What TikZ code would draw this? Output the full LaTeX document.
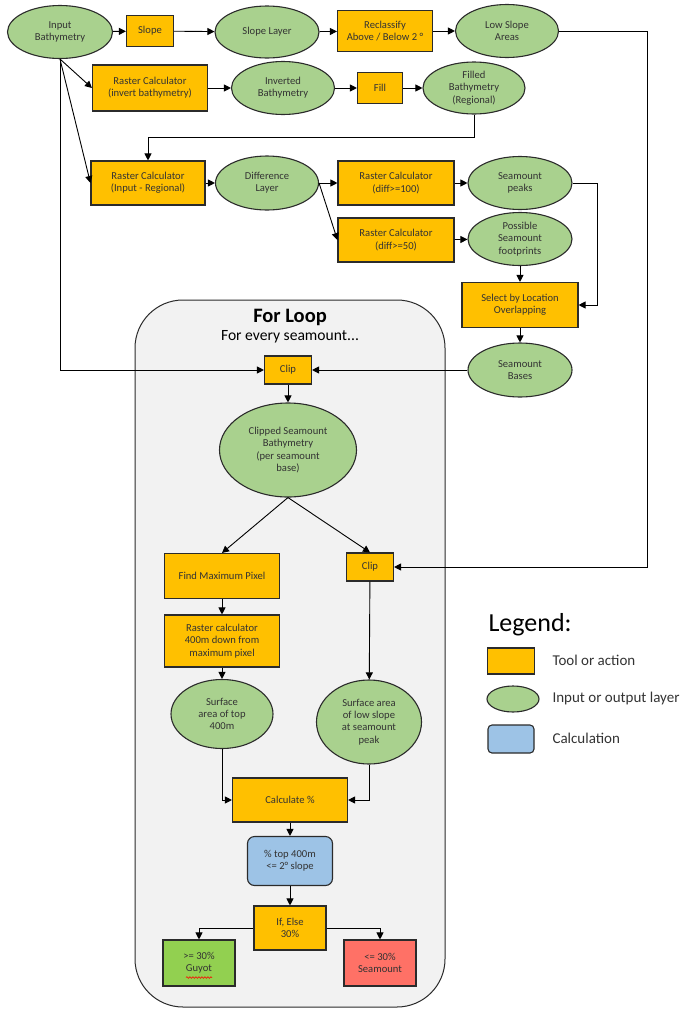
\documentclass[tikz,border=0pt]{standalone}
\usepackage{fontspec}
\setmainfont{Carlito}
\usetikzlibrary{arrows.meta,decorations.pathmorphing,shapes.geometric}
\definecolor{orng}{HTML}{FFC000}
\definecolor{grn}{HTML}{A9D18E}
\definecolor{blu}{HTML}{9DC3E6}
\definecolor{gbox}{HTML}{92D050}
\definecolor{rbox}{HTML}{FF7166}
\definecolor{loopbg}{HTML}{F2F2F2}
\definecolor{txt}{HTML}{333333}
\definecolor{edge}{HTML}{2B2B2B}
\tikzset{
  base/.style={draw=edge, line width=1.1pt, align=center, inner sep=0pt, text=txt,
    font=\fontsize{10.6}{12.3}\selectfont},
  tool/.style={base, rectangle, fill=orng},
  layer/.style={base, ellipse, fill=grn},
  calc/.style={base, rectangle, rounded corners=7pt, fill=blu},
  arr/.style={draw=black, line width=0.9pt, -{Triangle[length=7pt,width=7pt]}},
  ln/.style={draw=black, line width=0.9pt},
}
\begin{document}
\begin{tikzpicture}[x=1pt,y=-1pt]
\useasboundingbox (0,0) rectangle (682,1010);
% loop container
\draw[fill=loopbg, draw=edge, line width=1pt, rounded corners=48pt] (135,300) rectangle (445,1007);
\node[font=\fontsize{20.5}{23}\selectfont\bfseries, text=black] (ltitle) at (290,317) {For Loop};
\node[font=\fontsize{15.6}{18}\selectfont, text=black] (lsub) at (290,337) {For every seamount...};

% top rows
\node[layer, minimum width=105pt, minimum height=53pt] (inb) at (60,32) {Input\\Bathymetry};
\node[tool, minimum width=47pt, minimum height=31pt] (slope) at (150,31) {Slope};
\node[layer, minimum width=104pt, minimum height=52pt] (sl) at (267,32) {Slope Layer};
\node[tool, minimum width=95pt, minimum height=41pt] (recl) at (385,31) {Reclassify\\Above / Below 2 °};
\node[layer, minimum width=103pt, minimum height=53pt] (lsa) at (507,31) {Low Slope\\Areas};

\node[tool, minimum width=115pt, minimum height=46pt] (rci) at (150,88) {Raster Calculator\\(invert bathymetry)};
\node[layer, minimum width=103pt, minimum height=53pt] (ib) at (283,88) {Inverted\\Bathymetry};
\node[tool, minimum width=45pt, minimum height=31pt] (fill) at (380,88) {Fill};
\node[layer, minimum width=102pt, minimum height=52pt] (fb) at (474,88) {Filled\\Bathymetry\\(Regional)};

\node[tool, minimum width=114pt, minimum height=44pt] (rcr) at (148,183) {Raster Calculator\\(Input - Regional)};
\node[layer, minimum width=103pt, minimum height=54pt] (dl) at (267,183) {Difference\\Layer};
\node[tool, minimum width=116pt, minimum height=44pt] (rc100) at (396,183) {Raster Calculator\\(diff>=100)};
\node[layer, minimum width=104pt, minimum height=53pt] (sp) at (520,183) {Seamount\\peaks};
\node[tool, minimum width=116pt, minimum height=44pt] (rc50) at (396,240) {Raster Calculator\\(diff>=50)};
\node[layer, minimum width=104pt, minimum height=53pt] (psf) at (520,239) {Possible\\Seamount\\footprints};
\node[tool, minimum width=116pt, minimum height=45pt] (sel) at (520,305) {Select by Location\\Overlapping};
\node[layer, minimum width=104pt, minimum height=54pt] (sb) at (520,370) {Seamount\\Bases};

% loop contents
\node[tool, minimum width=47pt, minimum height=28pt] (clip1) at (288,370) {Clip};
\node[layer, minimum width=137pt, minimum height=94pt] (csb) at (288,450) {Clipped Seamount\\Bathymetry\\(per seamount\\base)};
\node[tool, minimum width=115pt, minimum height=45pt] (fmp) at (222,576) {Find Maximum Pixel};
\node[tool, minimum width=47pt, minimum height=28pt] (clip2) at (370,567) {Clip};
\node[tool, minimum width=115pt, minimum height=52pt] (rc400) at (222,641) {Raster calculator\\400m down from\\maximum pixel};
\node[layer, minimum width=102pt, minimum height=69pt] (sat) at (222,714) {Surface\\area of top\\400m};
\node[layer, minimum width=105pt, minimum height=84pt] (sal) at (369,722) {Surface area\\of low slope\\at seamount\\peak};
\node[tool, minimum width=115pt, minimum height=44pt] (calcp) at (290,800) {Calculate \%};
\node[calc, minimum width=85pt, minimum height=49pt] (pct) at (290,861) {\% top 400m\\<= 2° slope};
\node[tool, minimum width=72pt, minimum height=44pt] (ife) at (290,928) {If, Else\\30\%};
\node[base, rectangle, fill=gbox, minimum width=72pt, minimum height=46pt] (guy) at (199,963) {>= 30\%\\Guyot};
\node[base, rectangle, fill=rbox, minimum width=72pt, minimum height=46pt] (sea) at (380,963) {<= 30\%\\Seamount};
\draw[red, line width=0.6pt, decorate, decoration={snake, amplitude=0.8pt, segment length=3pt}] (186,977.5) -- (212,977.5);

% legend
\node[font=\fontsize{26}{30}\selectfont, text=black, anchor=west] (legt) at (485,625) {Legend:};
\node[tool, minimum width=47pt, minimum height=26pt] (lg1) at (511,661) {};
\node[font=\fontsize{15}{18}\selectfont, text=txt, anchor=west] (lgt1) at (549,660) {Tool or action};
\node[layer, minimum width=52pt, minimum height=26pt] (lg2) at (513,699) {};
\node[font=\fontsize{15}{18}\selectfont, text=txt, anchor=west] (lgt2) at (549,698) {Input or output layer};
\node[calc, minimum width=46pt, minimum height=28pt, rounded corners=4pt] (lg3) at (511,739) {};
\node[font=\fontsize{15}{18}\selectfont, text=txt, anchor=west] (lgt3) at (549,738) {Calculation};

% helper coordinates
\coordinate (ibot) at (60,370);
\coordinate (jn) at (474,137);
\coordinate (pk) at (597,183);
\coordinate (rr) at (647,567);

% connectors
\draw[arr] (inb) -- (slope);
\draw[arr] (slope) -- (sl);
\draw[arr] (sl) -- (recl);
\draw[arr] (recl) -- (lsa);
\draw[arr] (inb.south) -- (rci.west);
\draw[arr] (rci) -- (ib);
\draw[arr] (ib) -- (fill);
\draw[arr] (fill) -- (fb);
\draw[arr] (inb.south) -- (rcr.west);
\draw[arr] (fb.south) -- (jn) -| (rcr.north);
\draw[arr] (rcr) -- (dl);
\draw[arr] (dl.east) -- (rc100.west);
\draw[arr] (dl.east) -- (rc50.west);
\draw[arr] (rc100) -- (sp);
\draw[arr] (rc50) -- (psf);
\draw[arr] (psf) -- (sel);
\draw[arr] (sp.east) -- (pk) |- (sel.east);
\draw[arr] (sel) -- (sb);
\draw[arr] (sb) -- (clip1);
\draw[arr] (inb.south) -- (ibot) -- (clip1.west);
\draw[arr] (lsa.east) -| (rr) -- (clip2.east);
\draw[arr] (clip1) -- (csb);
\draw[arr] (csb.south) -- (fmp.north);
\draw[arr] (csb.south) -- (clip2.north);
\draw[arr] (fmp) -- (rc400);
\draw[arr] (rc400) -- (sat);
\draw[arr] (clip2) -- (sal);
\draw[arr] (sat.south) |- (calcp.west);
\draw[arr] (sal.south) |- (calcp.east);
\draw[arr] (calcp) -- (pct);
\draw[arr] (pct) -- (ife);
\draw[arr] (ife.west) -| (guy.north);
\draw[arr] (ife.east) -| (sea.north);
\end{tikzpicture}
\end{document}
